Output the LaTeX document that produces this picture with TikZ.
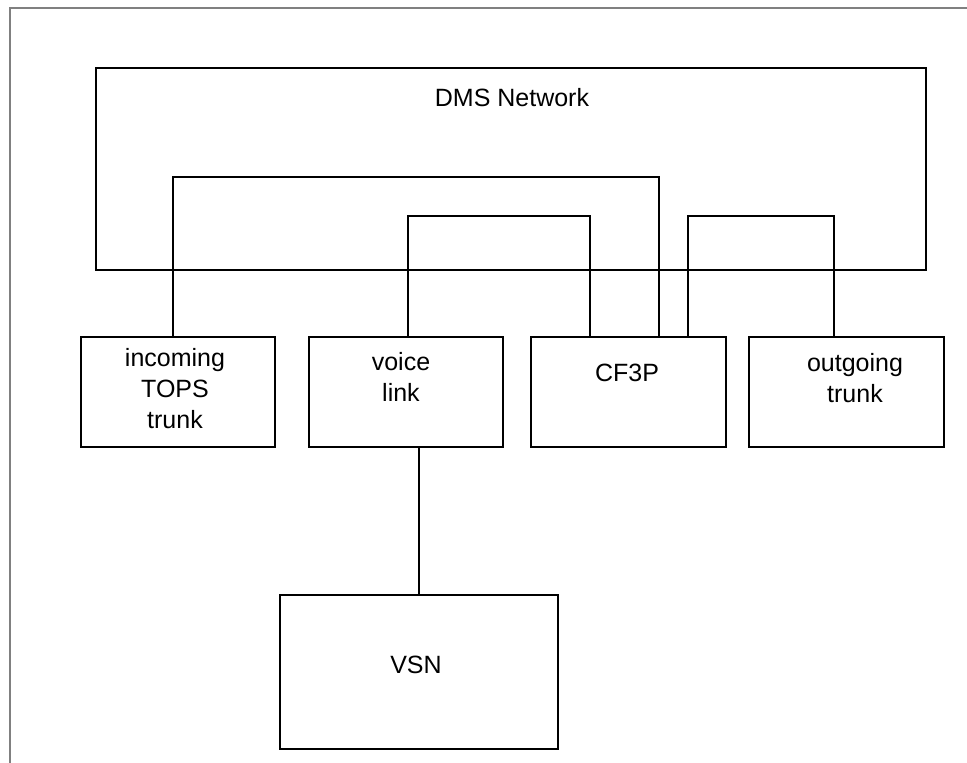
\documentclass[tikz,border=0pt]{standalone}
\usepackage{fontspec}
\setmainfont{Liberation Sans}
\begin{document}
\begin{tikzpicture}[x=1pt,y=-1pt,
  box/.style={draw, line width=1.5pt, inner sep=0pt, anchor=north west},
  conn/.style={line width=1.5pt},
  lbl/.style={font=\fontsize{25}{31}\selectfont, align=center, inner sep=0pt},
  frame/.style={draw=gray, line width=1.2pt}]
\useasboundingbox (0,0) rectangle (967,763);
\draw[frame] (10,763) -- (10,8) -- (967,8);

\node[box, minimum width=830pt, minimum height=202pt] (dms) at (95,67) {};
\node[box, minimum width=194pt, minimum height=110pt] (inc) at (80,336) {};
\node[box, minimum width=194pt, minimum height=110pt] (voice) at (308,336) {};
\node[box, minimum width=195pt, minimum height=110pt] (cf) at (530,336) {};
\node[box, minimum width=195pt, minimum height=110pt] (out) at (748,336) {};
\node[box, minimum width=278pt, minimum height=154pt] (vsn) at (279,594) {};

\node[lbl] (tdms) at (512,98) {DMS Network};
\node[lbl] (tinc) at (175,389) {incoming\\TOPS\\trunk};
\node[lbl] (tvoice) at (401,377) {voice\\link};
\node[lbl] (tcf) at (627,373) {CF3P};
\node[lbl] (tout) at (855,378) {outgoing\\trunk};
\node[lbl] (tvsn) at (416,665) {VSN};

\coordinate (k1) at (400,177);
\coordinate (k2) at (500,216);
\coordinate (k3) at (760,216);
\draw[conn] ([xshift=-5pt]inc.north) |- (k1) -| ([xshift=30.5pt]cf.north);
\draw[conn] ([xshift=2pt]voice.north) |- (k2) -| ([xshift=-38.5pt]cf.north);
\draw[conn] ([xshift=-12.5pt]out.north) |- (k3) -| ([xshift=59.5pt]cf.north);
\draw[conn] (vsn.north) -- (vsn.north |- voice.south);
\end{tikzpicture}
\end{document}
